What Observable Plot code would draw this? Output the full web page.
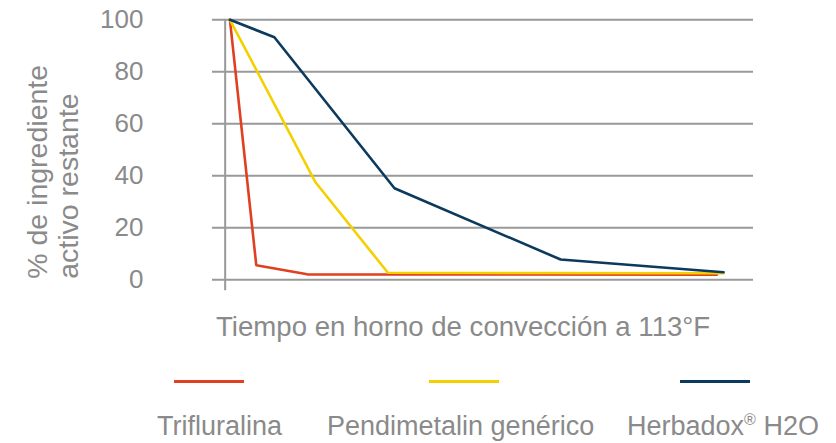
<!DOCTYPE html>
<html>
<head>
<meta charset="utf-8">
<script src="https://cdn.jsdelivr.net/npm/d3@7"></script>
<script src="https://cdn.jsdelivr.net/npm/@observablehq/plot@0.6"></script>
<style>
  html, body { margin: 0; padding: 0; background: #fff; }
  #wrap { position: relative; width: 836px; height: 443px; font-family: "Liberation Sans", Arial, sans-serif; color: #8a8a8a; }
  #chart { position: absolute; left: 0; top: 0; }
  .xt { position: absolute; font-size: 27.6px; line-height: 27px; white-space: nowrap; }
  .lg-line { position: absolute; height: 3px; }
  .lg-text { position: absolute; font-size: 27px; line-height: 27px; white-space: nowrap; }
</style>
</head>
<body>
<div id="wrap">
  <div id="chart"></div>
</div>
<script>
// ---- data ----
const seriesNames = ["Trifluralina", "Pendimetalin genérico", "Herbadox® H2O"];
const seriesColors = ["#e0401f", "#f5d000", "#0b3a5e"];
const triTime = [0, 1.6, 4.7, 29.6];
const triValue = [100, 5.6, 2.1, 2.0];
const pendiTime = [0, 5.2, 9.6, 30];
const pendiValue = [100, 37.5, 2.7, 2.5];
const herbTime = [0, 2.7, 10, 20.1, 30];
const herbValue = [100, 93.3, 35.2, 7.8, 2.9];
const yTicks = [0, 20, 40, 60, 80, 100];
const yLabelLines = ["% de ingrediente", "activo restante"];
const xTitle = "Tiempo en horno de convección a 113°F";

// ---- table ----
const rows = [];
[[triTime, triValue], [pendiTime, pendiValue], [herbTime, herbValue]].forEach(([t, v], i) => {
  t.forEach((tt, j) => rows.push({series: seriesNames[i], time: tt, value: v[j]}));
});

// ---- layout constants ----
const xDomain = [-1.06, 31.82];
const axisPos = -0.29;
const grey = "#8a8a8a";
const gridGrey = "#999999";

const chart = Plot.plot({
  width: 836,
  height: 300,
  marginLeft: 212,
  marginRight: 83,
  marginTop: 19.3,
  marginBottom: 20.7,
  style: {fontFamily: "'Liberation Sans', Arial, sans-serif", background: "transparent"},
  x: {domain: xDomain, axis: null},
  y: {domain: [0, 100], axis: null},
  color: {domain: seriesNames, range: seriesColors},
  marks: [
    Plot.ruleY(yTicks, {stroke: gridGrey, strokeWidth: 2}),
    Plot.ruleX([axisPos], {y1: -4.2, y2: 100, stroke: gridGrey, strokeWidth: 2}),
    Plot.axisY(yTicks, {tickSize: 0, tickPadding: 69, fontSize: 26, fill: grey, label: null}),
    Plot.line(rows, {x: "time", y: "value", z: "series", stroke: "series", strokeWidth: 2.6, strokeLinejoin: "miter"}),
    Plot.text([yLabelLines[0]], {text: d => d, frameAnchor: "bottom-left", rotate: -90, textAnchor: "start", lineAnchor: "middle", dx: 37 - 212, dy: -1, fontSize: 28.5, fill: grey}),
    Plot.text([yLabelLines[1]], {text: d => d, frameAnchor: "bottom-left", rotate: -90, textAnchor: "start", lineAnchor: "middle", dx: 68 - 212, dy: -1, fontSize: 28.5, fill: grey})
  ]
});
document.getElementById("chart").appendChild(chart);

const wrap = document.getElementById("wrap");
const xt = document.createElement("div");
xt.className = "xt";
xt.textContent = xTitle;
xt.style.left = "216px";
xt.style.top = "313px";
wrap.appendChild(xt);

// legend layout
const legendLineLeft = [174, 429, 680];
const legendLineWidth = 70;
const legendTextLeft = [157, 327, 627];
seriesNames.forEach((name, i) => {
  const ln = document.createElement("div");
  ln.className = "lg-line";
  ln.style.left = legendLineLeft[i] + "px";
  ln.style.top = "380px";
  ln.style.width = legendLineWidth + "px";
  ln.style.background = seriesColors[i];
  wrap.appendChild(ln);
  const tx = document.createElement("div");
  tx.className = "lg-text";
  tx.style.left = legendTextLeft[i] + "px";
  tx.style.top = "413px";
  if (name.includes("®")) {
    const parts = name.split("®");
    tx.appendChild(document.createTextNode(parts[0]));
    const sup = document.createElement("sup");
    sup.textContent = "®";
    sup.style.fontSize = "16px";
    sup.style.verticalAlign = "10px";
    sup.style.lineHeight = "0";
    tx.appendChild(sup);
    tx.appendChild(document.createTextNode(parts[1]));
  } else {
    tx.textContent = name;
  }
  wrap.appendChild(tx);
});
</script>
</body>
</html>
